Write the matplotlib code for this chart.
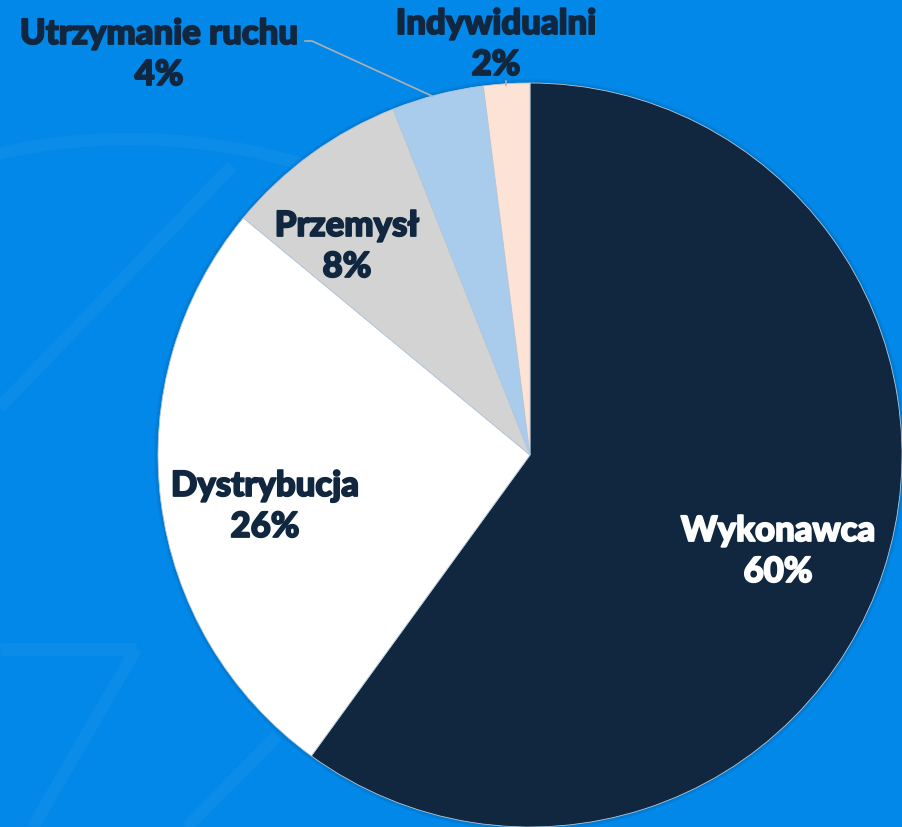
import matplotlib.pyplot as plt
import matplotlib.patheffects as pe
from matplotlib.patches import Circle, Arc

labels = ["Wykonawca", "Dystrybucja", "Przemysł", "Utrzymanie ruchu", "Indywidualni"]
values = [60, 26, 8, 4, 2]
colors = ["#10273f", "#ffffff", "#d3d3d3", "#a9cbec", "#fde3d6"]
text_colors = ["#ffffff", "#10273f", "#10273f", "#10273f", "#10273f"]

BG = "#0288e8"
W, H = 902, 828

fig = plt.figure(figsize=(W / 100, H / 100), dpi=100, facecolor=BG)
ax = fig.add_axes([0, 0, 1, 1])
ax.set_facecolor(BG)

# faint background ornament
deco = "#0c8ce9"
ax.add_patch(Arc((130, 88), 1200, 1200, theta1=62, theta2=118, color=deco, lw=9, zorder=0))
ax.plot([232, 0], [661, 420], color=deco, lw=9, zorder=0, solid_capstyle="butt")
ax.plot([0, 136], [178, 178], color=deco, lw=9, zorder=0, solid_capstyle="butt")
ax.plot([136, 33], [178, 0], color=deco, lw=9, zorder=0, solid_capstyle="butt")
ax.plot([277, 187], [91, 0], color=deco, lw=9, zorder=0, solid_capstyle="butt")

cx, cy, r = 530, 372, 372

# soft shadow
for i, a in enumerate([0.05, 0.05, 0.06, 0.07]):
    ax.add_patch(Circle((cx, cy), r + 4 - i, color="#003a70", alpha=a, lw=0, zorder=1))

wedges, _ = ax.pie(values, colors=colors, startangle=90, counterclock=False,
                   center=(cx, cy), radius=r, frame=True,
                   wedgeprops=dict(edgecolor="#b6c8da", linewidth=0.6, zorder=2))
ax.set_xlim(0, W)
ax.set_ylim(0, H)
ax.set_aspect("equal")
ax.axis("off")

font = dict(family=["Lato", "DejaVu Sans"], weight="black", fontsize=25,
            ha="center", va="baseline")

label_pos = [(778, 286), (265, 331), (347, 591), (159, 783), (496, 793)]
for lab, val, tc, (x, y) in zip(labels, values, text_colors, label_pos):
    fx = [pe.withStroke(linewidth=1.3, foreground=tc)]
    ax.text(x, y, lab, color=tc, zorder=5, path_effects=fx, **font)
    ax.text(x, y - 41, f"{val}%", color=tc, zorder=5, path_effects=fx, **font)

# leader lines
ax.plot([305, 312, 432], [786, 786, 731], color="#b0b0b0", lw=1.2, zorder=3)
ax.plot([506, 506], [746, 742], color="#b0b0b0", lw=1.2, zorder=3)

fig.savefig("out.png", dpi=100, facecolor=BG)
